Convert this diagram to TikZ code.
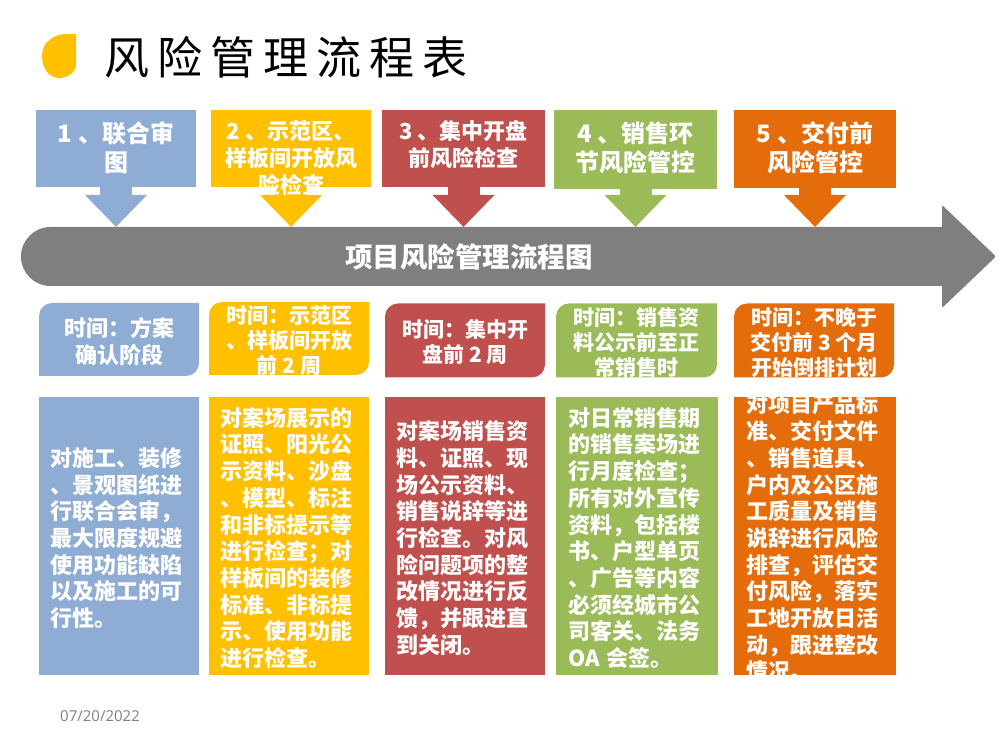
\documentclass[tikz,border=0pt]{standalone}
\usepackage{fontspec}
\setmainfont{Noto Sans CJK SC}
\setsansfont{Open Sans}
\usetikzlibrary{positioning, arrows.meta, backgrounds, shapes.misc}
\definecolor{cB}{RGB}{143,173,212}
\definecolor{cY}{RGB}{255,192,0}
\definecolor{cR}{RGB}{192,80,77}
\definecolor{cG}{RGB}{155,187,89}
\definecolor{cO}{RGB}{228,108,10}
\definecolor{cK}{RGB}{127,127,127}
\tikzset{
  headbox/.style={fill=#1, inner sep=0pt, outer sep=0pt, minimum width=160pt, minimum height=77pt},
  timebox/.style={inner sep=0pt, outer sep=0pt, minimum width=160pt, minimum height=73pt},
  bodybox/.style={fill=#1, inner sep=0pt, outer sep=0pt, minimum width=160pt, minimum height=278pt},
  headtext/.style={text=white, inner sep=0pt, align=center, font=\bfseries\fontsize{24}{29}\selectfont},
  smalltext/.style={text=white, inner sep=0pt, align=center, font=\bfseries\fontsize{22}{27}\selectfont},
  timetext/.style={text=white, inner sep=0pt, yshift=-2pt, align=center, font=\bfseries\fontsize{21}{25}\selectfont},
  bodytext/.style={text=white, inner sep=0pt, yshift=-2pt, text width=138pt, align=left, font=\bfseries\fontsize{22}{26.7}\selectfont},
  flowarrow/.style={#1, line width=32pt, -{Triangle[width=60pt,length=32pt]}}
}
\begin{document}
\begin{tikzpicture}[x=1pt, y=1pt]
    \useasboundingbox (0,0) rectangle (1000,750);

    % Title and logo
    \fill[cY] (76,716) -- (76,685) .. controls (76,678) and (68,672) .. (59,672) .. controls (48,672) and (42,683) .. (42,694) .. controls (42,708) and (54,716) .. (66,716) -- cycle;
    \node[anchor=west, inner sep=0pt, font=\fontsize{45}{50}\selectfont\addfontfeature{LetterSpace=18}] (title) at (104,692.5) {风险管理流程表};

    % Main bar
    \node[rounded rectangle, rounded rectangle right arc=none, fill=cK, inner sep=0pt, outer sep=0pt, minimum width=922pt, minimum height=59pt] (bar) at (482,493.5) {};
    \fill[cK, rounded corners=2pt] ([xshift=-1pt, yshift=51.5pt]bar.east) -- ([xshift=53pt]bar.east) -- ([xshift=-1pt, yshift=-51.5pt]bar.east) -- cycle;
    \node[text=white, inner sep=0pt, font=\bfseries\fontsize{27.5}{33}\selectfont] (barT) at (469,493.5) {项目风险管理流程图};

    % Header boxes
    \node[headbox=cB, label={[headtext, yshift=1pt]center:{1 、联合审\\图}}] (H1) at (116,601.5) {};
    \node[headbox=cY, label={[smalltext, yshift=-9.5pt]center:{2 、示范区、\\样板间开放风\\险检查}}] (H2) [right=15pt of H1] {};
    \node[headbox=cR, minimum width=163pt, label={[smalltext, yshift=4pt]center:{3 、集中开盘\\前风险检查}}] (H3) [right=11pt of H2] {};
    \node[headbox=cG, minimum width=163pt, minimum height=79pt, label={[headtext, yshift=2pt]center:{4 、销售环\\节风险管控}}] (H4) [right=9pt of H3, yshift=-1pt] {};
    \node[headbox=cO, minimum width=162pt, minimum height=78pt, label={[headtext, yshift=1.5pt]center:{5 、交付前\\风险管控}}] (H5) [right=17pt of H4, yshift=0.5pt] {};

    % Time boxes
    \node[timebox, label={[timetext, font=\bfseries\fontsize{22}{27}\selectfont]center:{时间：方案\\确认阶段}}] (T1) at (119,410.5) {};
    \node[timebox, label={[timetext]center:{时间：示范区\\、样板间开放\\前 2 周}}] (T2) [right=10pt of T1, yshift=1pt] {};
    \node[timebox, minimum height=74pt, label={[timetext]center:{时间：集中开\\盘前 2 周}}] (T3) [right=16pt of T2, yshift=-2pt] {};
    \node[timebox, minimum width=161pt, minimum height=74pt, label={[timetext]center:{时间：销售资\\料公示前至正\\常销售时}}] (T4) [right=11pt of T3] {};
    \node[timebox, minimum height=74pt, label={[timetext]center:{时间：不晚于\\交付前 3 个月\\开始倒排计划}}] (T5) [right=17pt of T4] {};

    % Body boxes
    \node[bodybox=cB, label={[bodytext]center:{对施工、装修\\、景观图纸进\\行联合会审，\\最大限度规避\\使用功能缺陷\\以及施工的可\\行性。}}] (B1) at (119,214) {};
    \node[bodybox=cY, label={[bodytext]center:{对案场展示的\\证照、阳光公\\示资料、沙盘\\、模型、标注\\和非标提示等\\进行检查；对\\样板间的装修\\标准、非标提\\示、使用功能\\进行检查。}}] (B2) [right=10pt of B1] {};
    \node[bodybox=cR, label={[bodytext]center:{对案场销售资\\料、证照、现\\场公示资料、\\销售说辞等进\\行检查。对风\\险问题项的整\\改情况进行反\\馈，并跟进直\\到关闭。}}] (B3) [right=16pt of B2] {};
    \node[bodybox=cG, minimum width=162pt, label={[bodytext]center:{对日常销售期\\的销售案场进\\行月度检查；\\所有对外宣传\\资料，包括楼\\书、户型单页\\、广告等内容\\必须经城市公\\司客关、法务\\OA 会签。}}] (B4) [right=11pt of B3] {};
    \node[bodybox=cO, minimum width=162pt, label={[bodytext]center:{对项目产品标\\准、交付文件\\、销售道具、\\户内及公区施\\工质量及销售\\说辞进行风险\\排查，评估交\\付风险，落实\\工地开放日活\\动，跟进整改\\情况。}}] (B5) [right=16pt of B4] {};

    % Date
    \node[inner sep=0pt, text=cK, font=\sffamily\fontsize{15}{17}\selectfont] (date) at (100,34) {07/20/2022};

    \begin{scope}[on background layer]
        % Arrows into the bar
        \foreach \n/\c in {H1/cB, H2/cY, H3/cR, H4/cG, H5/cO}
            \draw[flowarrow=\c] (\n) -- (\n |- bar.north);
        % Time box fills
        \foreach \n/\c in {T1/cB, T2/cY, T3/cR, T4/cG, T5/cO}
            \fill[\c] (\n.west) [rounded corners=13pt] -- (\n.north west) [sharp corners] -- (\n.north east) -- (\n.east) [rounded corners=13pt] -- (\n.south east) [sharp corners] -- (\n.south west) -- cycle;
    \end{scope}
\end{tikzpicture}
\end{document}
